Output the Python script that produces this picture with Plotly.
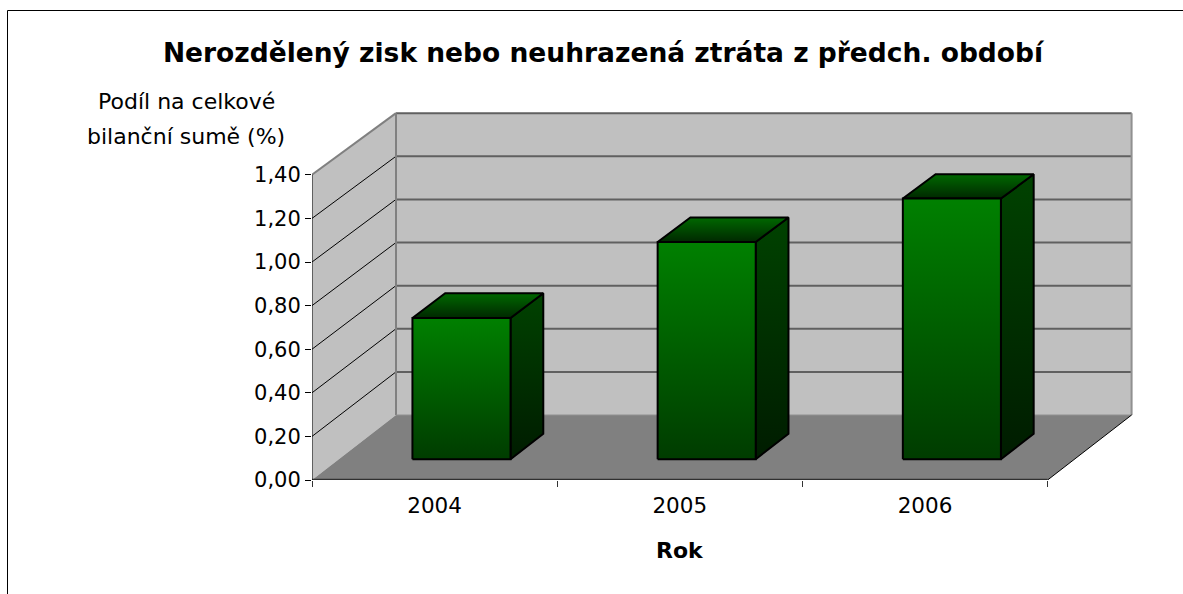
import plotly.graph_objects as go

# ---------------- data ----------------
years = ["2004", "2005", "2006"]
values = [0.65, 1.00, 1.20]
y_tick_values = [0.0, 0.2, 0.4, 0.6, 0.8, 1.0, 1.2, 1.4]
y_tick_labels = ["0,00", "0,20", "0,40", "0,60", "0,80", "1,00", "1,20", "1,40"]
title_text = "Nerozdělený zisk nebo neuhrazená ztráta z předch. období"
y_title_lines = ["Podíl na celkové", "bilanční sumě (%)"]
x_title_text = "Rok"

# ---------------- geometry / style ----------------
W, H = 1183, 594
ML, MR, MT, MB = 312, 33, 100, 114
PX_X = 245.2            # pixels per category on front plane
PX_Y = 218.0            # pixels per unit on front plane
DX = 84 / PX_X          # depth offset (x units)
DY = 65 / PX_Y          # depth offset (y units)
K = 0.011               # slight perspective shrink toward the back
BAR_HALF = 0.2
Z_FRONT, Z_BACK = 0.32, 0.71
FONT = "DejaVu Sans, Arial, sans-serif"

n = len(years)
ymax_axis = y_tick_values[-1]
plot_w = W - ML - MR
plot_h = H - MT - MB
x_range = [0, plot_w / PX_X]
y_range = [0, plot_h / PX_Y]


def proj(x, y, z):
    return x + z * DX, y * (1 - K * z) + z * DY


def px_to_paper(px, py):
    return (px - ML) / plot_w, (H - MB - py) / plot_h


fig = go.Figure()


def poly(pts, fill=None, line_color=None, width=0, grad=None):
    xs, ys = zip(*[proj(*p) for p in pts])
    xs = list(xs) + [xs[0]]
    ys = list(ys) + [ys[0]]
    kw = dict(x=xs, y=ys, mode="lines", fill="toself", hoverinfo="skip",
              showlegend=False,
              line=dict(color=line_color or "rgba(0,0,0,0)", width=width))
    if grad is not None:
        kw["fillgradient"] = dict(type="vertical", colorscale=grad)
    else:
        kw["fillcolor"] = fill
    fig.add_trace(go.Scatter(**kw))


def seg(p1, p2, color, width):
    a = proj(*p1)
    b = proj(*p2)
    fig.add_trace(go.Scatter(x=[a[0], b[0]], y=[a[1], b[1]], mode="lines",
                             line=dict(color=color, width=width),
                             hoverinfo="skip", showlegend=False))


# walls and floor
poly([(0, 0, 0), (0, 0, 1), (0, ymax_axis, 1), (0, ymax_axis, 0)], fill="#C0C0C0")
poly([(0, 0, 1), (n, 0, 1), (n, ymax_axis, 1), (0, ymax_axis, 1)], fill="#C0C0C0")
poly([(0, 0, 0), (n, 0, 0), (n, 0, 1), (0, 0, 1)], fill="#808080")

# gridlines
for v in y_tick_values[1:-1]:
    seg((0, v, 0), (0, v, 1), "black", 1)
    seg((0, v, 1), (n, v, 1), "#606060", 2)
# wall edges
seg((0, ymax_axis, 0), (0, ymax_axis, 1), "#808080", 2)
seg((0, ymax_axis, 1), (n, ymax_axis, 1), "#606060", 2)
seg((0, 0, 1), (0, ymax_axis, 1), "#808080", 2)
seg((n, 0, 1), (n, ymax_axis, 1), "#909090", 2)
seg((0, 0, 1), (n, 0, 1), "#909090", 1)
seg((n, 0, 0), (n, 0, 1), "black", 1)

# bars
for i, v in enumerate(values):
    x0, x1 = i + 0.5 - BAR_HALF, i + 0.5 + BAR_HALF
    # right side face
    poly([(x1, 0, Z_FRONT), (x1, 0, Z_BACK), (x1, v, Z_BACK), (x1, v, Z_FRONT)],
         line_color="black", width=2,
         grad=[[0, "#001c00"], [1, "#004200"]])
    # top face
    poly([(x0, v, Z_FRONT), (x1, v, Z_FRONT), (x1, v, Z_BACK), (x0, v, Z_BACK)],
         line_color="black", width=2,
         grad=[[0, "#002800"], [1, "#006800"]])
    # front face
    poly([(x0, 0, Z_FRONT), (x1, 0, Z_FRONT), (x1, v, Z_FRONT), (x0, v, Z_FRONT)],
         line_color="black", width=2,
         grad=[[0, "#003c00"], [1, "#008000"]])

# front axis lines
seg((0, 0, 0), (n, 0, 0), "#303030", 2.5)
seg((0, 0, 0), (0, ymax_axis, 0), "black", 1)

fig.update_layout(
    width=W, height=H,
    margin=dict(l=ML, r=MR, t=MT, b=MB),
    paper_bgcolor="white", plot_bgcolor="white",
    hovermode=False, showlegend=False,
    title=dict(text="<b>" + title_text + "</b>", x=603 / W, xanchor="center",
               y=1 - 53 / H, yanchor="middle",
               font=dict(family=FONT, size=26.5, color="black")),
    xaxis=dict(range=x_range, tickmode="array",
               tickvals=[i + 0.5 for i in range(n)], ticktext=years,
               ticks="", showgrid=False, zeroline=False, showline=False,
               ticklabelstandoff=10,
               tickfont=dict(family=FONT, size=21.5, color="black"),
               minor=dict(tickmode="array", tickvals=list(range(n + 1)),
                          ticks="outside", ticklen=6, tickcolor="#333333",
                          tickwidth=1, showgrid=False),
               fixedrange=True),
    yaxis=dict(range=y_range, tickmode="array", tickvals=y_tick_values,
               ticktext=y_tick_labels, ticks="outside", ticklen=6,
               tickcolor="black", tickwidth=1, showgrid=False,
               zeroline=False, showline=False,
               tickfont=dict(family=FONT, size=21, color="black"),
               fixedrange=True),
)

# axis titles
for line_text, py in zip(y_title_lines, [101, 136]):
    ax, ay = px_to_paper(186, py)
    fig.add_annotation(text=line_text, x=ax, y=ay, xref="paper", yref="paper",
                       xanchor="center", yanchor="middle", showarrow=False,
                       font=dict(family=FONT, size=22, color="black"))
rx, ry = px_to_paper(680, 550)
fig.add_annotation(text="<b>" + x_title_text + "</b>", x=rx, y=ry, xref="paper",
                   yref="paper", xanchor="center", yanchor="middle",
                   showarrow=False,
                   font=dict(family=FONT, size=22, color="black"))

# outer chart border (right/bottom edges lie outside the picture)
bx0, by0 = px_to_paper(7.5, 10.5)
bx1, by1 = px_to_paper(1200, 610)
fig.add_shape(type="rect", xref="paper", yref="paper", x0=bx0, y0=by1,
              x1=bx1, y1=by0, line=dict(color="black", width=1), layer="above")

fig.write_html("out.html",
               config={"displayModeBar": False},
               post_script="document.body.style.margin='0px';"
                           "document.body.style.overflow='hidden';")
